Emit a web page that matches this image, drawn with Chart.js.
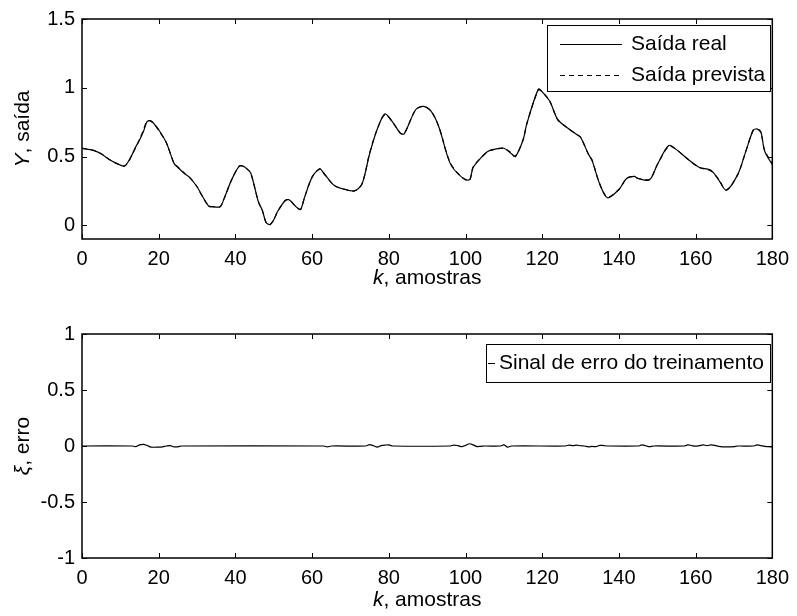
<!DOCTYPE html>
<html>
<head>
<meta charset="utf-8">
<script src="https://cdn.jsdelivr.net/npm/chart.js@4"></script>
<style>
  body { margin: 0; background: #fff; }
  #wrap { width: 797px; height: 616px; position: relative; }
  canvas { display: block; }
</style>
</head>
<body>
<div id="wrap">
  <canvas id="topChart" width="797" height="308"></canvas>
  <canvas id="botChart" width="797" height="308"></canvas>
</div>
<script>
// amostras (k) e saídas
const kOut = [0, 1, 3, 5, 7, 9, 11, 12, 13, 14, 15, 16, 17, 18, 19, 20, 22, 24, 25, 27,
    28, 30, 31, 33, 34, 36, 37, 39, 41, 42, 43, 44, 46, 47, 48, 49, 50, 51, 53, 54,
    56, 57, 58, 60, 62, 63, 65, 66, 68, 71, 73, 75, 77, 79, 81, 83, 84, 87, 89, 91,
    93, 96, 99, 101, 102, 104, 106, 108, 110, 112, 113, 115, 116, 119, 120, 122, 124, 126, 129, 130,
    132, 133, 135, 137, 140, 142, 144, 145, 148, 150, 153, 155, 158, 161, 164, 166, 168, 171, 173, 175,
    176, 177, 178, 180];
const saidaReal = [0.56, 0.555, 0.545, 0.52, 0.48, 0.45, 0.43, 0.46, 0.51, 0.57, 0.62, 0.68, 0.755, 0.76, 0.73, 0.695, 0.60, 0.45, 0.42, 0.37,
    0.35, 0.28, 0.23, 0.14, 0.135, 0.135, 0.19, 0.33, 0.43, 0.43, 0.41, 0.38, 0.17, 0.11, 0.02, 0.005, 0.04, 0.10, 0.18, 0.185,
    0.13, 0.115, 0.20, 0.35, 0.41, 0.38, 0.31, 0.285, 0.265, 0.25, 0.30, 0.52, 0.70, 0.81, 0.75, 0.67, 0.665, 0.84, 0.865, 0.83,
    0.72, 0.45, 0.35, 0.33, 0.42, 0.49, 0.54, 0.555, 0.56, 0.52, 0.50, 0.62, 0.74, 0.99, 0.97, 0.90, 0.77, 0.72, 0.66, 0.64,
    0.52, 0.47, 0.30, 0.20, 0.26, 0.34, 0.355, 0.34, 0.33, 0.44, 0.58, 0.55, 0.48, 0.42, 0.40, 0.33, 0.255, 0.37, 0.53, 0.69,
    0.70, 0.68, 0.54, 0.44];
const saidaPrevista = [0.56, 0.555, 0.545, 0.52, 0.48, 0.45, 0.43, 0.455, 0.51, 0.565, 0.625, 0.69, 0.76, 0.755, 0.73, 0.69, 0.60, 0.45, 0.425, 0.37,
    0.35, 0.28, 0.23, 0.14, 0.135, 0.135, 0.19, 0.33, 0.43, 0.43, 0.41, 0.38, 0.17, 0.11, 0.02, 0.005, 0.04, 0.10, 0.18, 0.185,
    0.13, 0.115, 0.20, 0.35, 0.41, 0.38, 0.31, 0.285, 0.265, 0.25, 0.30, 0.525, 0.70, 0.805, 0.75, 0.67, 0.665, 0.84, 0.865, 0.83,
    0.72, 0.455, 0.35, 0.325, 0.425, 0.49, 0.54, 0.555, 0.56, 0.525, 0.50, 0.62, 0.74, 0.985, 0.97, 0.90, 0.77, 0.72, 0.66, 0.64,
    0.52, 0.475, 0.30, 0.205, 0.26, 0.34, 0.355, 0.34, 0.335, 0.44, 0.575, 0.55, 0.48, 0.42, 0.395, 0.335, 0.255, 0.37, 0.53, 0.69,
    0.70, 0.675, 0.545, 0.45];

// sinal de erro
const kErro = [0, 13, 14, 15, 16, 17, 18, 20, 21, 22, 23, 24, 25, 26, 63, 64, 65, 74, 75, 76,
    77, 78, 79, 80, 81, 96, 97, 98, 99, 100, 101, 102, 103, 104, 105, 109, 110, 111, 112, 126,
    127, 128, 129, 130, 131, 132, 133, 134, 135, 136, 137, 145, 146, 147, 148, 149, 157, 158, 159, 160,
    161, 162, 163, 164, 165, 166, 167, 168, 170, 171, 175, 176, 177, 178, 179, 180];
const erro = [0, 0, -0.005, 0.01, 0.015, 0.005, -0.01, -0.01, -0.008, 0, 0.004, -0.008, -0.007, 0, 0, -0.008, 0, 0, 0.012, 0.002,
    -0.01, 0.003, 0.008, 0.01, 0, 0, 0.008, 0.003, -0.005, 0.006, 0.02, 0.01, -0.005, -0.003, 0, 0, 0.01, -0.01, 0, 0,
    0.008, 0.003, 0.008, 0.002, 0, -0.008, -0.004, -0.006, 0.006, 0.004, 0, 0, 0.01, 0.002, -0.006, 0, 0, 0.01, 0.004, -0.002,
    0.004, 0.01, 0.004, 0.01, 0.006, -0.004, -0.008, -0.008, -0.005, 0, 0, 0.01, 0.004, -0.004, -0.006, -0.008];

const xTicks = [0, 20, 40, 60, 80, 100, 120, 140, 160, 180];
const yTicksTop = [0, 0.5, 1, 1.5];
const yTicksBot = [-1, -0.5, 0, 0.5, 1];

const FONT = '"Liberation Sans", Arial, Helvetica, sans-serif';
const TXT = 21; // títulos e legenda
Chart.defaults.font.family = FONT;
Chart.defaults.font.size = 20;
Chart.defaults.color = '#000';

function pts(xs, ys) {
    return xs.map((x, i) => ({ x: x, y: ys[i] }));
}

function drawRich(ctx, parts, cx, y, rotate) {
    ctx.save();
    ctx.translate(cx, y);
    if (rotate) ctx.rotate(-Math.PI / 2);
    let w = 0;
    parts.forEach(p => {
        ctx.font = (p.italic ? 'italic ' : '') + TXT + 'px ' + FONT;
        w += ctx.measureText(p.t).width;
    });
    let x = -w / 2;
    ctx.textBaseline = 'alphabetic';
    ctx.textAlign = 'left';
    ctx.fillStyle = '#000';
    parts.forEach(p => {
        ctx.font = (p.italic ? 'italic ' : '') + TXT + 'px ' + FONT;
        ctx.fillText(p.t, x, 0);
        x += ctx.measureText(p.t).width;
    });
    ctx.restore();
}

// caixa, marcas internas, títulos e legenda no estilo do MATLAB
const matlabBox = {
    id: 'matlabBox',
    afterDraw(chart, args, o) {
        const { ctx, chartArea: a, scales } = chart;
        ctx.save();
        ctx.strokeStyle = '#000';
        ctx.lineWidth = 1;
        ctx.beginPath();
        scales.x.ticks.forEach(t => {
            const px = Math.round(scales.x.getPixelForValue(t.value)) + 0.5;
            ctx.moveTo(px, a.bottom); ctx.lineTo(px, a.bottom - 5);
            ctx.moveTo(px, a.top); ctx.lineTo(px, a.top + 5);
        });
        scales.y.ticks.forEach(t => {
            const py = Math.round(scales.y.getPixelForValue(t.value)) + 0.5;
            ctx.moveTo(a.left, py); ctx.lineTo(a.left + 5, py);
            ctx.moveTo(a.right, py); ctx.lineTo(a.right - 5, py);
        });
        ctx.stroke();
        ctx.lineWidth = 1.5;
        ctx.strokeRect(a.left, a.top, a.right - a.left, a.bottom - a.top);

        // legenda
        const L = o.legend;
        ctx.fillStyle = '#fff';
        ctx.fillRect(L.x0, L.y0, L.x1 - L.x0, L.y1 - L.y0);
        ctx.lineWidth = 1;
        ctx.strokeRect(L.x0 + 0.5, L.y0 + 0.5, L.x1 - L.x0, L.y1 - L.y0);
        chart.data.datasets.forEach((ds, i) => {
            const y = L.rows[i];
            ctx.beginPath();
            ctx.setLineDash(ds.borderDash || []);
            ctx.lineWidth = 1;
            ctx.moveTo(L.lineX0, y + 0.5);
            ctx.lineTo(L.lineX1, y + 0.5);
            ctx.stroke();
            ctx.setLineDash([]);
            ctx.fillStyle = '#000';
            ctx.font = TXT + 'px ' + FONT;
            ctx.textBaseline = 'middle';
            ctx.textAlign = 'left';
            ctx.fillText(ds.label, L.textX, y);
        });
        ctx.restore();

        drawRich(ctx, o.xTitle, (a.left + a.right) / 2, a.bottom + o.xTitleOffset, false);
        drawRich(ctx, o.yTitle, o.yTitleX, (a.top + a.bottom) / 2, true);
    }
};

function axisOpts(ticksArr, min, max, width) {
    return {
        type: 'linear',
        min: min,
        max: max,
        afterBuildTicks: s => { s.ticks = ticksArr.map(v => ({ value: v })); },
        ticks: { padding: 7, callback: v => String(v) },
        grid: { display: false, drawTicks: false },
        border: { display: false },
        afterFit: s => { s.width = width; }
    };
}

function xOpts(height) {
    return {
        type: 'linear',
        min: 0,
        max: 180,
        afterBuildTicks: s => { s.ticks = xTicks.map(v => ({ value: v })); },
        ticks: { padding: 8, maxRotation: 0, callback: v => String(v) },
        grid: { display: false, drawTicks: false },
        border: { display: false },
        afterFit: s => { s.height = height; }
    };
}

new Chart(document.getElementById('topChart'), {
    type: 'line',
    data: {
        datasets: [{
            label: 'Saída real',
            data: pts(kOut, saidaReal),
            borderColor: '#000',
            borderWidth: 1.2,
            pointRadius: 0,
            tension: 0.3
        }, {
            label: 'Saída prevista',
            data: pts(kOut, saidaPrevista),
            borderColor: '#000',
            borderWidth: 1.2,
            borderDash: [5, 4],
            pointRadius: 0,
            tension: 0.3
        }]
    },
    options: {
        responsive: false,
        animation: false,
        layout: { padding: { left: 0, right: 20, top: 15, bottom: 0 } },
        scales: {
            x: xOpts(69),
            y: axisOpts(yTicksTop, -0.1, 1.5, 82)
        },
        plugins: {
            legend: { display: false },
            tooltip: { enabled: false },
            matlabBox: {
                xTitle: [{ t: 'k', italic: true }, { t: ', amostras' }],
                xTitleOffset: 45,
                yTitle: [{ t: 'Y', italic: true }, { t: ', saída' }],
                yTitleX: 29,
                legend: { x0: 547, y0: 25, x1: 770, y1: 91, lineX0: 560, lineX1: 622, textX: 631, rows: [44, 75] }
            }
        }
    },
    plugins: [matlabBox]
});

new Chart(document.getElementById('botChart'), {
    type: 'line',
    data: {
        datasets: [{
            label: 'Sinal de erro do treinamento',
            data: pts(kErro, erro),
            borderColor: '#000',
            borderWidth: 1.2,
            pointRadius: 0,
            tension: 0.3
        }]
    },
    options: {
        responsive: false,
        animation: false,
        layout: { padding: { left: 0, right: 20, top: 26, bottom: 0 } },
        scales: {
            x: xOpts(58),
            y: axisOpts(yTicksBot, -1, 1, 82)
        },
        plugins: {
            legend: { display: false },
            tooltip: { enabled: false },
            matlabBox: {
                xTitle: [{ t: 'k', italic: true }, { t: ', amostras' }],
                xTitleOffset: 48,
                yTitle: [{ t: 'ξ', italic: true }, { t: ', erro' }],
                yTitleX: 29,
                legend: { x0: 486, y0: 36, x1: 770, y1: 74, lineX0: 488, lineX1: 495, textX: 499, rows: [55] }
            }
        }
    },
    plugins: [matlabBox]
});
</script>
</body>
</html>
